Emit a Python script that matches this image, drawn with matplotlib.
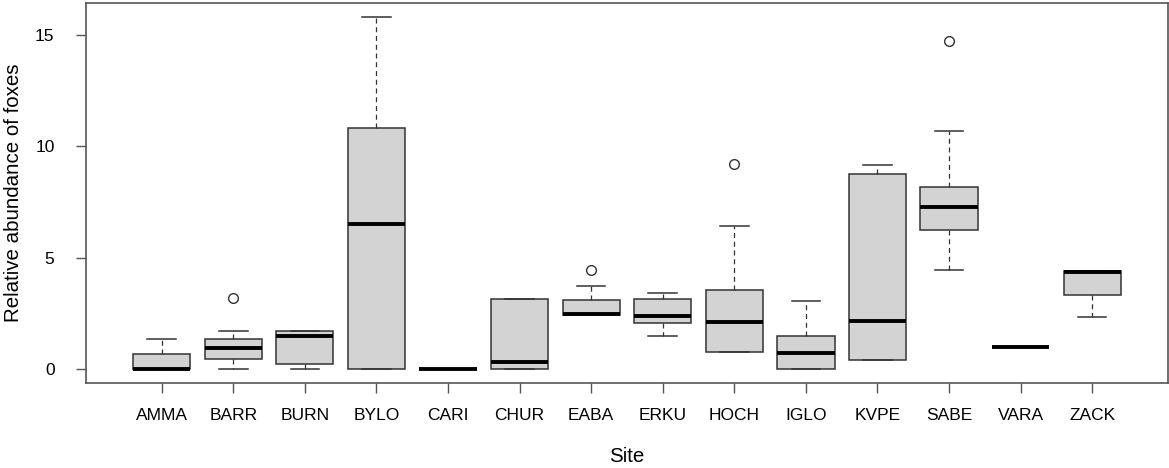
import matplotlib
matplotlib.use('Agg')
import matplotlib.pyplot as plt

plt.rcParams['font.family'] = ['Liberation Sans', 'DejaVu Sans']

# summary stats per site (whisker low, q1, median, q3, whisker high, outliers)
sites = ['AMMA', 'BARR', 'BURN', 'BYLO', 'CARI', 'CHUR', 'EABA',
         'ERKU', 'HOCH', 'IGLO', 'KVPE', 'SABE', 'VARA', 'ZACK']
whislo = [0.0, 0.0, 0.0, 0.0, 0.0, 0.0, 2.41, 1.48, 0.76, 0.0, 0.39, 4.46, 1.0, 2.35]
q1 = [0.0, 0.45, 0.21, 0.0, 0.0, 0.0, 2.41, 2.08, 0.76, 0.0, 0.39, 6.26, 1.0, 3.31]
med = [0.0, 0.94, 1.48, 6.53, 0.0, 0.31, 2.46, 2.37, 2.11, 0.72, 2.14, 7.27, 1.0, 4.34]
q3 = [0.69, 1.36, 1.71, 10.84, 0.0, 3.16, 3.08, 3.13, 3.55, 1.47, 8.77, 8.17, 1.0, 4.39]
whishi = [1.36, 1.71, 1.71, 15.81, 0.0, 3.16, 3.73, 3.39, 6.44, 3.04, 9.15, 10.70, 1.0, 4.39]
outliers = [[], [3.19], [], [], [], [], [4.46], [], [9.19], [], [], [14.73], [], []]

stats = []
for i, name in enumerate(sites):
    stats.append(dict(label=name, whislo=whislo[i], q1=q1[i], med=med[i],
                      q3=q3[i], whishi=whishi[i], fliers=outliers[i]))

fig = plt.figure(figsize=(11.69, 4.68), dpi=100)
ax = fig.add_axes([0.0736, 0.1816, 0.9254, 0.812])

edge = '#333333'
pos = list(range(1, len(sites) + 1))
ax.bxp(stats, positions=pos, widths=0.8, patch_artist=True,
       boxprops=dict(facecolor='#d3d3d3', edgecolor=edge, linewidth=1.1),
       medianprops=dict(color='black', linewidth=2.8, solid_capstyle='butt'),
       whiskerprops=dict(color=edge, linewidth=0.9, linestyle=(0, (4, 3))),
       capprops=dict(color=edge, linewidth=1.1),
       capwidths=0.4,
       flierprops=dict(marker='o', markerfacecolor='none', markeredgecolor=edge,
                       markersize=7, markeredgewidth=1.0))

ax.set_xlim(1 - 1.057, len(sites) + 1.057)
ax.set_ylim(-0.632, 16.432)
ax.set_yticks([0, 5, 10, 15])
ax.set_xticks(pos)
ax.set_xticklabels(sites)

for s in ax.spines.values():
    s.set_color('#555555')
    s.set_linewidth(1.2)

ax.tick_params(axis='both', direction='out', colors='#555555', labelcolor='black',
               labelsize=12.5, width=1.0, length=7.2)
ax.tick_params(axis='y', pad=15.5)
ax.tick_params(axis='x', pad=10.5)

ax.set_xlabel('Site', fontsize=14.8)
ax.xaxis.label.set_va('baseline')
ax.xaxis.set_label_coords(0.5, -0.207)

ax.set_ylabel('Relative abundance of foxes', fontsize=14.8)
ax.yaxis.label.set_va('center')
ax.yaxis.set_label_coords(-0.067, 0.5)

fig.savefig('out.png', dpi=100, facecolor='white')
